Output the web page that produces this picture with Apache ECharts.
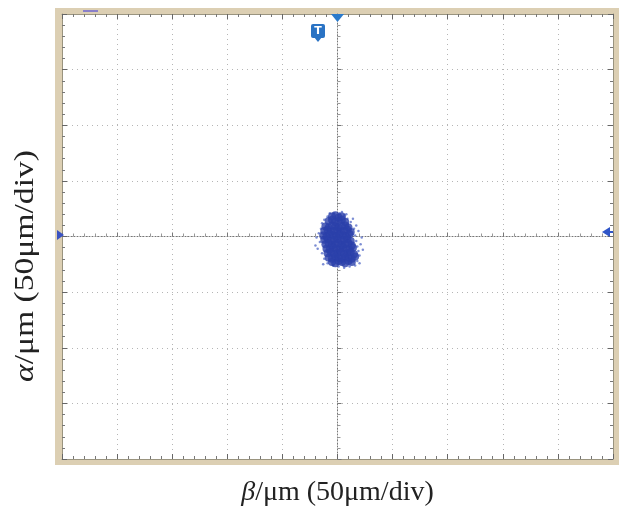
<!DOCTYPE html>
<html><head><meta charset="utf-8">
<script src="https://cdn.jsdelivr.net/npm/echarts@6/dist/echarts.min.js"></script>
<style>html,body{margin:0;padding:0;background:#fff}#c{width:622px;height:511px}</style>
</head><body><div id="c"></div>
<script>
// Axis ranges (50 μm per division)
const xRange = [-250, 250];
const yRange = [-200, 200];
const divStep = 50;
const xTitle = '{i|β}/μm (50μm/div)';
const yTitleItalic = 'α';
const yTitleRest = '/μm (50μm/div)';

// Dense core of the spot (μm)
const coreX = [-5,-2,1,4, -8,-5,-2,1,4,7, -11,-8,-5,-2,1,4,7,10, -12,-9,-6,-3,0,3,6,9,12,
  -13,-10,-7,-4,-1,2,5,8,11, -12,-9,-6,-3,0,3,6,9,12, -11,-8,-5,-2,1,4,7,10,13,
  -10,-7,-4,-1,2,5,8,11,14, -9,-6,-3,0,3,6,9,12,15, -8,-5,-2,1,4,7,10,13,16, -5,-2,1,4,7,10,13];
const coreY = [18,19,17,18, 14,15,13,14,15,13, 9,8,10,9,8,9,10,8, 5,6,4,5,6,4,5,6,4,
  1,0,2,1,0,2,1,0,2, -3,-2,-4,-3,-2,-4,-3,-2,-4, -7,-6,-8,-7,-6,-8,-7,-6,-8,
  -11,-12,-10,-11,-12,-10,-11,-12,-10, -15,-14,-16,-15,-14,-16,-15,-14,-16, -19,-20,-18,-19,-20,-18,-19,-20,-18, -23,-24,-22,-23,-24,-22,-23];
// Sparse halo points (μm)
const haloX = [-17,-16,-15,-18,-14,-12,-9,-3,2,6,9,12,15,16,17,18,19,20,18,16,11,6,1,-4,-9,-12,-14,21,22,19,-19,14,-7,4,23,-20,17,-13,20,8];
const haloY = [3,-5,7,-11,12,15,18,21,21,19,16,13,7,1,-4,-9,-13,-17,-22,-26,-27,-28,-27,-26,-24,-20,-15,-7,-1,5,-1,16,21,22,-12,-8,10,-25,-24,20];

const core = coreX.map((v,i)=>[v,coreY[i]]);
const halo = haloX.map((v,i)=>[v,haloY[i]]);

const chart = echarts.init(document.getElementById('c'));
const gridRect = {left:62, top:14, width:551, height:445, outerBoundsMode:'none', containLabel:false};
const serif = '"Liberation Serif","DejaVu Serif",serif';
const nameStyle = {fontFamily:serif, fontSize:28, color:'#222',
  rich:{i:{fontFamily:serif, fontSize:28, fontStyle:'italic', color:'#222'}}};

function centerAxis(range){
  return {type:'value', gridIndex:0, min:range[0], max:range[1], interval:divStep,
    axisLabel:{show:false},
    axisLine:{show:true, onZero:true, lineStyle:{color:'#777', type:[1,2], width:1}},
    axisTick:{show:true, inside:true, length:4, lineStyle:{color:'#777'}},
    minorTick:{show:true, splitNumber:5, length:3, lineStyle:{color:'#999'}},
    splitLine:{show:true, lineStyle:{color:'#b5b5b5', type:[1,4], width:1}},
    minorSplitLine:{show:false}};
}
function edgeAxis(pos, range, extra){
  return Object.assign({type:'value', gridIndex:1, position:pos, min:range[0], max:range[1], interval:divStep,
    axisLabel:{show:false},
    axisLine:{show:true, onZero:false, lineStyle:{color:'#9a947f', width:1}},
    axisTick:{show:true, inside:true, length:5, lineStyle:{color:'#666'}},
    minorTick:{show:true, splitNumber:5, length:3, lineStyle:{color:'#777'}},
    splitLine:{show:false}}, extra||{});
}

chart.setOption({
  animation:false,
  backgroundColor:'#fff',
  grid:[Object.assign({show:true, backgroundColor:'#fff', borderWidth:0}, gridRect),
        Object.assign({show:false}, gridRect)],
  xAxis:[centerAxis(xRange),
    edgeAxis('bottom', xRange, {name:xTitle, nameLocation:'middle', nameGap:20, nameTextStyle:nameStyle}),
    edgeAxis('top', xRange)],
  yAxis:[centerAxis(yRange),
    edgeAxis('left', yRange),
    edgeAxis('right', yRange)],
  series:[
    {type:'scatter', xAxisIndex:0, yAxisIndex:0, data:halo, symbolSize:2.5,
     itemStyle:{color:'#5c72c9'}, z:5},
    {type:'scatter', xAxisIndex:0, yAxisIndex:0, data:core, symbolSize:8,
     itemStyle:{color:'#2b40aa'}, z:6}
  ],
  graphic:[
    {type:'rect', z:-10, shape:{x:55, y:8, width:564, height:457}, style:{fill:'#dccfb3'}},
    {type:'rect', z:100, shape:{x:83, y:10, width:15, height:2}, style:{fill:'#8a7fc8'}},
    {type:'polygon', z:100, shape:{points:[[331,14],[344,14],[337.5,22]]}, style:{fill:'#2a7acb'}},
    {type:'group', z:100, x:311, y:24, children:[
      {type:'rect', shape:{x:0, y:0, width:14, height:14, r:[2,2,2,2]}, style:{fill:'#2a73c4'}},
      {type:'polygon', shape:{points:[[3,13],[11,13],[7,18]]}, style:{fill:'#2a73c4'}},
      {type:'text', style:{text:'T', x:7, y:7, fill:'#fff', font:'bold 11px "DejaVu Sans"', align:'center', verticalAlign:'middle'}}
    ]},
    {type:'polygon', z:100, shape:{points:[[57,230],[57,240],[64,235]]}, style:{fill:'#3a52c2'}},
    {type:'polygon', z:100, shape:{points:[[602,232],[610,227],[610,237]]}, style:{fill:'#2f55c8'}},
    {type:'rect', z:100, shape:{x:608, y:231, width:5, height:2}, style:{fill:'#2f55c8'}},
    {type:'text', z:100, x:26, y:266, rotation:Math.PI/2, scaleX:1.2, scaleY:1,
     style:{text:'{i|' + yTitleItalic + '}' + yTitleRest, align:'center', verticalAlign:'middle',
       fill:'#222', font:'28px "Liberation Serif"',
       rich:{i:{fontStyle:'italic', fontSize:28, fontFamily:'Liberation Serif', fill:'#222'}}}}
  ]
});
</script></body></html>
